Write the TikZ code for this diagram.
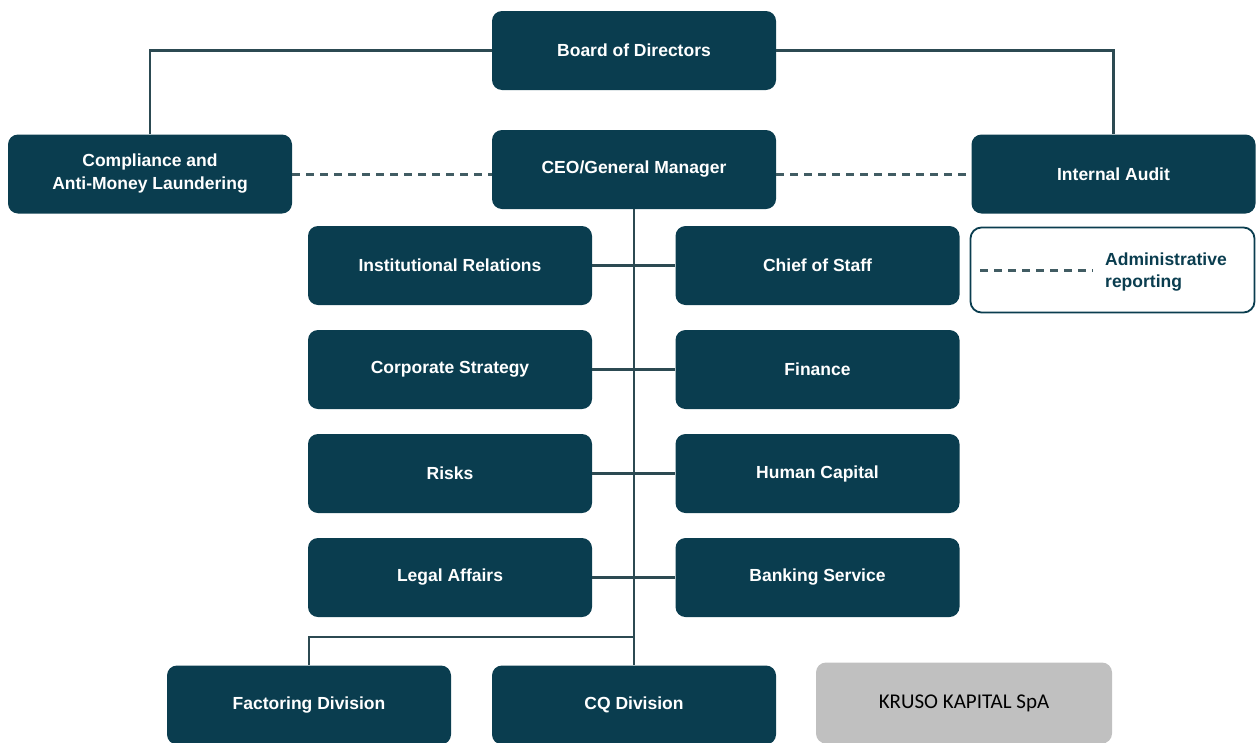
\documentclass[tikz,border=0pt]{standalone}
\usepackage{fontspec}
\setmainfont{Liberation Sans}
\newfontfamily\kfont{Carlito}
\usepackage{tikz}
\usetikzlibrary{positioning}
\definecolor{boxteal}{HTML}{0A3D4F}
\definecolor{lineteal}{HTML}{2C4A52}
\definecolor{kgrey}{HTML}{C0C0C0}

\begin{document}
\begin{tikzpicture}[x=1pt, y=-1pt,
    unit/.style={fill=boxteal, rounded corners=10pt, minimum width=284pt, minimum height=79pt,
      inner sep=0pt, text=white, align=center, font=\bfseries\fontsize{17.5}{23}\selectfont},
    link/.style={draw=lineteal, line width=2.4pt},
    dotlink/.style={draw=lineteal!90, line width=3pt, dash pattern=on 8pt off 6pt}
  ]
  \useasboundingbox (0,0) rectangle (1256,742);

  % top of the chart
  \node[unit] (board) at (634,50.5) {Board of Directors};
  \node[unit] (ceo) at (634,169.5) {CEO/General Manager};
  \node[unit] (comp) at (150,174) {Compliance and\\Anti-Money Laundering};
  \node[unit] (audit) at (1113.5,174) {Internal Audit};

  % legend
  \node[draw=boxteal, line width=1.8pt, rounded corners=11pt, fill=white,
    minimum width=284pt, minimum height=85pt] (legend) at (1112.5,270) {};
  \node[anchor=west, text=boxteal, align=left, inner sep=0pt,
    font=\bfseries\fontsize{17.5}{22}\selectfont] (legtext) at (1105,272) {Administrative\\reporting};
  \coordinate (legstart) at (980,270);

  % staff functions
  \node[unit] (inst) at (450,265.5) {Institutional Relations};
  \node[unit] (chief) at (817.5,265.5) {Chief of Staff};
  \node[unit] (strat) at (450,369.5) {Corporate Strategy};
  \node[unit] (fin) at (817.5,369.5) {Finance};
  \node[unit] (risk) at (450,473.5) {Risks};
  \node[unit] (hc) at (817.5,473.5) {Human Capital};
  \node[unit] (legal) at (450,577.5) {Legal Affairs};
  \node[unit] (bank) at (817.5,577.5) {Banking Service};

  % divisions
  \node[unit] (fact) at (309,705) {Factoring Division};
  \node[unit] (cq) at (634,705) {CQ Division};
  \node[fill=kgrey, rounded corners=10pt, minimum width=296pt, minimum height=81pt,
    font=\kfont\fontsize{21}{24}\selectfont] (kruso) at (964,703) {KRUSO KAPITAL SpA};

  % connectors
  \draw[link] (board.west) -| (comp.north);
  \draw[link] (board.east) -| (audit.north);
  \draw[dotlink] (comp.east) -- (comp.east -| ceo.west);
  \draw[dotlink] (ceo.east |- audit.west) -- (audit.west);
  \draw[dotlink] (legstart) -- ([xshift=-12pt]legtext.west |- legstart);
  \draw[link] (ceo.south) -- (cq.north);
  \foreach \l/\r in {inst/chief, strat/fin, risk/hc, legal/bank}
    \draw[link] (\l.east) -- (\r.west);
  \coordinate (split) at (634,637);
  \draw[link] (split) -| (fact.north);
\end{tikzpicture}
\end{document}
